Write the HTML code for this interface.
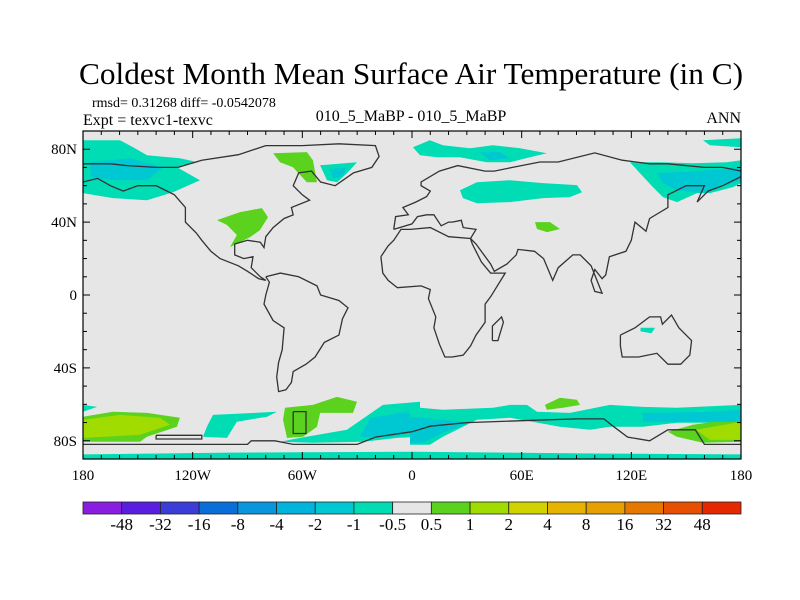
<!DOCTYPE html>
<html><head><meta charset="utf-8"><style>
html,body{margin:0;padding:0;background:#fff;}
svg{display:block;font-family:"Liberation Serif",serif;}
</style></head><body>
<svg id="chart" width="800" height="600" viewBox="0 0 800 600">
<text x="411" y="84" text-anchor="middle" font-size="31" textLength="664" lengthAdjust="spacingAndGlyphs">Coldest Month Mean Surface Air Temperature (in C)</text>
<text x="92" y="107" font-size="14">rmsd= 0.31268 diff= -0.0542078</text>
<text x="83" y="125" font-size="16">Expt = texvc1-texvc</text>
<text x="411" y="121" text-anchor="middle" font-size="16">010_5_MaBP - 010_5_MaBP</text>
<text x="741" y="123" text-anchor="end" font-size="16">ANN</text>
<g id="plot"></g>
<g id="cbar"></g>
</svg>
<script>
// ---- data ----
const lonTicks=[-180,-120,-60,0,60,120,180];
const lonTickLabels=["180","120W","60W","0","60E","120E","180"];
const latTicks=[80,40,0,-40,-80];
const latTickLabels=["80N","40N","0","40S","80S"];
const levels=["-48","-32","-16","-8","-4","-2","-1","-0.5","0.5","1","2","4","8","16","32","48"];
const levelColors=["#8a1ee0","#5a1ee0","#3c3cd8","#0a6ed8","#0a96dc","#00b4dc","#00c8d2","#00dcb4","#e6e6e6","#5ad21e","#a0dc00","#d2d200","#e6b400","#e6a000","#e67800","#e65000","#e62800"];
// anomaly regions: [color level index, polygon lon/lat]
const anomalyLevels=[7,6,9,7,6,9,7,6,7,9,7,6,7,9,10,7,7,9,7,6,7,9,9,10,7,6,6,7];
const anomalyShapes=[
[[-180,84.9],[-159.8,84.9],[-152.6,81.1],[-145,76.7],[-127,75.1],[-117,72.9],[-128.6,70.1],[-116,63],[-130.8,56.4],[-145,52],[-163.6,53.2],[-180,55.9]],
[[-176,72.9],[-154.3,75.1],[-136.2,70.1],[-145,63],[-163.6,63],[-176,64.7]],
[[-76,77.8],[-57.5,78.4],[-54.2,74],[-52,61.9],[-57.5,61.9],[-65.1,70.1],[-72.2,72.9]],
[[-50.3,71.2],[-30.1,72.9],[-35.6,66.8],[-41,61.9],[-46.5,63]],
[[-45,69],[-36,70],[-38,65],[-43,64]],
[[-106.7,41.1],[-94.1,45.5],[-82.1,47.7],[-78.8,42.7],[-83.2,35.6],[-88.6,31.8],[-99.6,26.3],[-95.8,32.9],[-101.2,38.4]],
[[0.5,81.1],[9.8,84.9],[16.9,82.2],[31.7,80.5],[44.3,82.2],[59.1,80.5],[73.8,77.8],[64.5,75.6],[53.6,72.9],[41,72.9],[26.2,75.6],[13.7,75.6],[4.4,76.7]],
[[37.2,78.4],[48.1,78.4],[53.6,75.1],[42.6,74]],
[[26.2,57.5],[35.5,61.9],[53.6,63],[71.6,61.4],[90.2,60.3],[93,56.4],[86.4,53.7],[71.6,53.2],[53.6,51],[35.5,50.4],[27.9,53.2]],
[[67.3,40],[75.5,40],[81,36.2],[73.9,34.5],[68.4,36.2]],
[[119.2,72.9],[135.6,72.9],[153.7,72.3],[172.3,72.9],[180,74],[180,61.4],[175.6,59.2],[163,55.9],[155.9,55.9],[145,51],[137.3,53.7],[131.8,59.2]],
[[134,66.8],[163,68.5],[180,70.1],[180,63],[159.2,55.9],[145,57.5],[137.3,61.4]],
[[159.2,84.9],[180,86],[180,81.1],[163,82.2]],
[[-180,-66.8],[-163.6,-64.1],[-145,-64.7],[-127,-67.4],[-128.6,-72.3],[-145,-77.8],[-148.8,-80.5],[-163.6,-80.5],[-180,-80.5]],
[[-180,-68.5],[-159.8,-65.8],[-137.9,-67.4],[-132.4,-71.2],[-148.8,-76.7],[-180,-78.4]],
[[-180,-60.3],[-172.3,-61.4],[-180,-64.1]],
[[-108.9,-65.8],[-73.9,-64.1],[-79.3,-66.8],[-95.8,-69.6],[-101.2,-78.4],[-114.4,-77.8],[-112.2,-72.3]],
[[-69.5,-61.9],[-54.2,-60.3],[-41.1,-55.9],[-30.1,-58.6],[-32.3,-64.7],[-50.3,-64.7],[-52,-72.3],[-59.6,-77.8],[-68.4,-78.4],[-70.6,-68.5]],
[[-15.9,-60.3],[4.4,-58.6],[4.4,-77.8],[-8.2,-78.4],[-26.8,-80.5],[-54.2,-81.1],[-72.2,-80.5],[-61.3,-78.4],[-35.6,-74]],
[[-23,-67.4],[4.4,-63],[4.4,-75.1],[-12.1,-77.8],[-28.5,-77.8]],
[[-1.1,-61.4],[16.9,-63],[44.3,-61.9],[53.6,-60.3],[62.9,-60.3],[68.4,-64.1],[86.4,-64.7],[108.3,-60.3],[126.3,-61.4],[144.9,-61.9],[180,-60.3],[180,-69.6],[163,-70.1],[144.9,-70.1],[126.3,-72.3],[108.3,-72.3],[97.4,-74],[80.9,-72.3],[53.6,-67.4],[35.5,-68.5],[16.9,-77.8],[9.8,-82.2],[-1.1,-82.2]],
[[72.7,-60.3],[80.9,-56.4],[90.2,-57.5],[91.9,-60.3],[82.6,-61.9],[73.8,-63]],
[[140,-75.1],[153.7,-71.2],[180,-67.4],[180,-80.5],[159.2,-81.1],[144.9,-77.8]],
[[155.4,-74],[180,-69.6],[180,-79.5],[163,-79.5]],
[[-180,-87.5],[-100,-86.5],[0,-86],[100,-87],[180,-87.5],[180,-90],[-180,-90]],
[[-1.1,-66.8],[16.9,-68.5],[31.7,-70.1],[16.9,-75.6],[6,-81.1],[-1.1,-81.1]],
[[126.3,-64.7],[163,-64.1],[180,-63],[180,-69.6],[144.9,-69.6],[126.3,-69.6]],
[[125,-18],[133,-18],[131,-21],[125,-20]]
];
const coastlines=[
[[-180,72],[-168,72],[-165,72],[-156,71],[-140,70],[-128,70],[-115,74],[-95,77],[-80,82],[-60,82],[-40,83],[-20,82],[-18,76],[-22,70],[-32,67],[-42,60],[-50,62],[-55,68],[-62,67],[-65,60],[-60,55],[-56,52],[-66,48],[-65,44],[-70,42],[-76,37],[-80,32],[-81,26],[-83,29],[-90,30],[-97,28],[-97,22],[-92,20],[-87,21],[-88,15],[-83,10],[-80,8],[-84,9],[-90,13],[-95,16],[-105,20],[-110,24],[-115,30],[-118,34],[-124,40],[-124,48],[-130,55],[-140,60],[-150,60],[-158,57],[-165,60],[-172,64],[-180,62]],
[[-80,10],[-72,12],[-62,10],[-52,5],[-50,0],[-40,-3],[-35,-7],[-38,-13],[-40,-22],[-48,-26],[-53,-34],[-58,-38],[-65,-42],[-66,-48],[-69,-52],[-73,-53],[-74,-45],[-73,-37],[-71,-30],[-70,-18],[-76,-14],[-81,-5],[-80,0],[-78,7],[-80,10]],
[[-10,36],[-9,43],[-2,44],[-5,48],[2,51],[8,54],[10,57],[5,60],[5,62],[15,68],[25,71],[40,68],[45,68],[55,70],[70,73],[80,73],[100,78],[115,74],[130,72],[140,72],[160,70],[170,70],[180,68]],
[[180,65],[170,60],[162,57],[156,51],[160,60],[150,60],[140,55],[140,48],[130,42],[128,35],[122,40],[120,30],[117,24],[108,21],[106,11],[104,9],[100,14],[98,8],[100,2],[104,1],[98,16],[92,22],[88,22],[80,15],[77,8],[72,20],[67,24],[58,25],[57,22],[52,17],[45,13],[43,17],[35,28],[32,31],[35,36],[28,37],[27,41],[22,40],[20,40],[16,38],[12,44],[8,44],[3,43],[0,39],[-10,36]],
[[-17,21],[-16,12],[-13,8],[-8,4],[5,5],[10,3],[9,-2],[13,-12],[12,-18],[15,-27],[18,-34],[22,-34],[28,-33],[32,-28],[35,-22],[40,-15],[40,-5],[43,-1],[51,12],[43,12],[38,18],[33,28],[32,31],[20,32],[10,37],[-1,36],[-6,36],[-10,30],[-13,27],[-17,21]],
[[114,-22],[122,-18],[130,-12],[136,-12],[137,-16],[142,-11],[146,-18],[153,-25],[152,-33],[147,-38],[140,-38],[134,-32],[124,-34],[115,-34],[114,-28],[114,-22]],
[[44,-25],[47,-25],[50,-15],[49,-12],[44,-17],[44,-25]],
[[-180,-82],[-90,-82],[-88,-80],[-75,-80],[-65,-82],[-30,-82],[-20,-78],[0,-75],[10,-72],[30,-70],[60,-69],[90,-68],[105,-68],[110,-72],[118,-78],[130,-80],[140,-74],[155,-74],[160,-82],[180,-82]],
[[-65,-64],[-58,-64],[-58,-76],[-65,-76],[-65,-64]],
[[-140,-77],[-115,-77],[-115,-79],[-140,-79],[-140,-77]]
];
// ---- axes ----
const X0=83,X1=741,Y0=131,Y1=459;
function xScale(lon){return X0+(lon+180)/360*(X1-X0);}
function yScale(lat){return Y0+(90-lat)/180*(Y1-Y0);}
const NS="http://www.w3.org/2000/svg";
function mk(tag,attrs,parent){const e=document.createElementNS(NS,tag);for(const k in attrs)e.setAttribute(k,attrs[k]);parent.appendChild(e);return e;}
const plot=document.getElementById('plot');
const bg=mk('rect',{x:X0,y:Y0,width:X1-X0,height:Y1-Y0,fill:'#e6e6e6'},plot);


const clip=mk('clipPath',{id:'pc'},plot);mk('rect',{x:X0,y:Y0,width:X1-X0,height:Y1-Y0},clip);
const inner=mk('g',{'clip-path':'url(#pc)'},plot);
function pts(poly){return poly.map(p=>xScale(p[0]).toFixed(1)+','+yScale(p[1]).toFixed(1)).join(' ');}
anomalyShapes.forEach((poly,i)=>{
  const e=mk('polygon',{points:pts(poly),fill:levelColors[anomalyLevels[i]]},inner);
  
  
});
coastlines.forEach(poly=>{
  const e=mk('polyline',{points:pts(poly),fill:'none',stroke:'#333','stroke-width':1.3},inner);
  
  
});
const frame=mk('rect',{x:X0,y:Y0,width:X1-X0,height:Y1-Y0,fill:'none',stroke:'#000','stroke-width':1.2},plot);


for(let lon=-180;lon<=180;lon+=10){
  const x=xScale(lon),L=(lon%60===0)?7:4;
  mk('line',{x1:x,x2:x,y1:Y1,y2:Y1-L,stroke:'#000'},plot);
  mk('line',{x1:x,x2:x,y1:Y0,y2:Y0+L,stroke:'#000'},plot);
}
for(let lat=-90;lat<=90;lat+=10){
  const y=yScale(lat),L=(lat%40===0)?7:4;
  mk('line',{x1:X0,x2:X0+L,y1:y,y2:y,stroke:'#000'},plot);
  mk('line',{x1:X1,x2:X1-L,y1:y,y2:y,stroke:'#000'},plot);
}
lonTicks.forEach((lon,i)=>{
  const t=mk('text',{x:xScale(lon),y:480,'text-anchor':'middle','font-size':15},plot);
  t.textContent=lonTickLabels[i];
  
  
});
latTicks.forEach((lat,i)=>{
  const t=mk('text',{x:77,y:yScale(lat)+5,'text-anchor':'end','font-size':15},plot);
  t.textContent=latTickLabels[i];
  
  
});
// ---- colorbar ----
const cb=document.getElementById('cbar');
const bw=(X1-X0)/levelColors.length;
levelColors.forEach((c,i)=>{
  const r=mk('rect',{x:X0+i*bw,y:502,width:bw,height:12,fill:c,stroke:'#222','stroke-width':0.8},cb);
  
  
});
levels.forEach((lv,i)=>{
  const t=mk('text',{x:X0+(i+1)*bw,y:530,'text-anchor':'middle','font-size':17},cb);
  t.textContent=lv;
  
  
});
</script>
</body></html>
